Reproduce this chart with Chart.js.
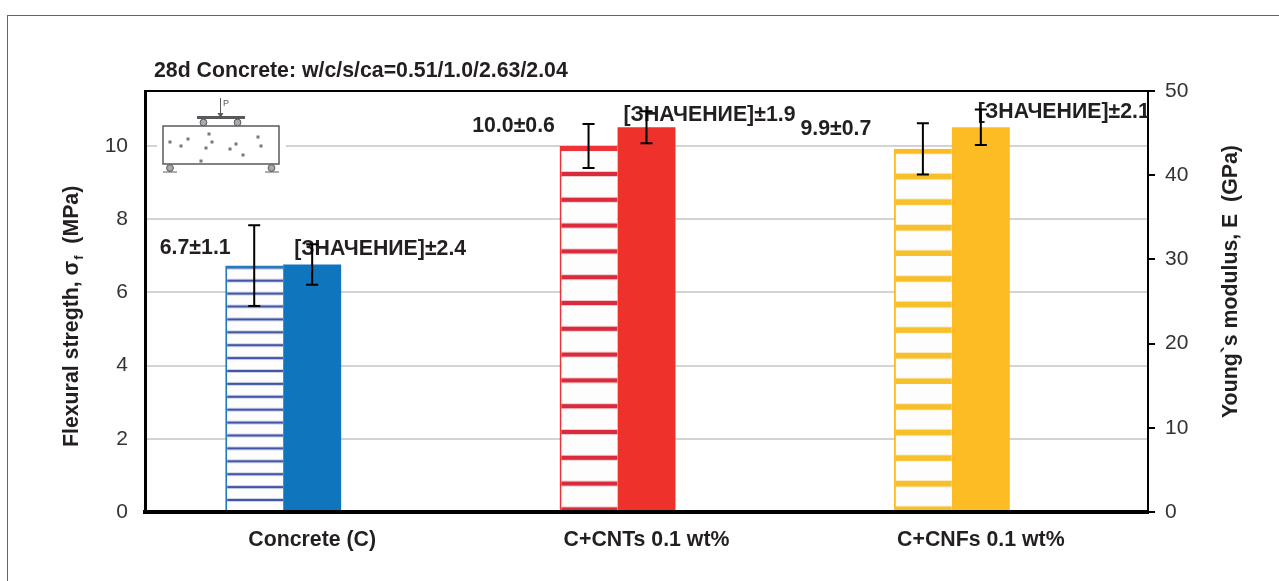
<!DOCTYPE html>
<html>
<head>
<meta charset="utf-8">
<title>Flexural strength and modulus</title>
<script src="https://cdn.jsdelivr.net/npm/chart.js@4"></script>
<style>
    html, body { margin: 0; padding: 0; background: #fff; overflow: hidden; }
    #frame { position: absolute; left: 7px; top: 15px; width: 1290px; height: 600px; border: 1.5px solid #666; }
    #chart { position: absolute; left: 0; top: 0; }
</style>
</head>
<body>
<div id="frame"></div>
<canvas id="chart" width="1279" height="581"></canvas>
<script>
// Chart data
const categories = ['Concrete (C)', 'C+CNTs 0.1 wt%', 'C+CNFs 0.1 wt%'];
const flexuralStrength = [6.73, 10.0, 9.92];
const flexuralError = [1.1, 0.6, 0.7];
const youngsModulus = [29.4, 45.7, 45.7];
const modulusError = [2.4, 1.9, 2.1];
const leftTicks = [0, 2, 4, 6, 8, 10];
const rightTicks = [0, 10, 20, 30, 40, 50];

const TEXT = '#231f20';
const FONT = '"Liberation Sans", Arial, sans-serif';
const solidColors = ['#0f75bc', '#ef312b', '#fdbb24'];
const edgeColors = ['#1f7cc0', '#ee3338', '#fdbb24'];
const lineColors = ['#4356a6', '#d92b3c', '#f6bf2c'];

// Label offsets from the top centre of each bar
const flexuralLabelPos = [[-59, -18], [-75, -20], [-87, -20]];
const modulusLabelPos = [[68, -15], [63, -12], [83, -15]];

const ctx = document.getElementById('chart').getContext('2d');

// Horizontal hatching; the tile holds enough lines to come out at a whole pixel height
function makeHatch(color, period, count, lineY, lineWidth) {
    const height = Math.round(period * count);
    const tile = document.createElement('canvas');
    tile.width = 4;
    tile.height = height;
    const t = tile.getContext('2d');
    t.fillStyle = '#fdfdfd';
    t.fillRect(0, 0, 4, height);
    for (let i = 0; i < count; i++) {
        const y = ((lineY + i * height / count) % height + height) % height;
        t.fillStyle = color;
        t.globalAlpha = 0.25;
        t.fillRect(0, y - lineWidth / 2 - 1, 4, lineWidth + 2);
        t.globalAlpha = 1;
        t.fillRect(0, y - lineWidth / 2, 4, lineWidth);
    }
    return ctx.createPattern(tile, 'repeat');
}

const hatches = [
    makeHatch(lineColors[0], 12.9, 10, 500, 2),
    makeHatch(lineColors[1], 25.8, 5, 174, 4),
    makeHatch(lineColors[2], 25.6, 5, 176.5, 5.5)
];

// Fixed box sizes so the plot lands where the reference has it
function fixWidth(w) { return scale => { scale.width = w; }; }

function drawBeam(c) {
    c.save();
    c.fillStyle = '#fff';
    c.fillRect(157, 96, 129, 82);
    c.strokeStyle = '#58595b';
    c.fillStyle = '#58595b';
    c.lineWidth = 1.5;
    c.strokeRect(163, 126, 116, 38);
    c.fillRect(197, 116, 48, 3);
    c.lineWidth = 1;
    c.beginPath(); c.moveTo(220.5, 98); c.lineTo(220.5, 114); c.stroke();
    c.beginPath(); c.moveTo(217.5, 113); c.lineTo(223.5, 113); c.lineTo(220.5, 118); c.fill();
    c.font = '9px ' + FONT;
    c.fillText('P', 223, 106);
    [[203.5, 122.5], [237.5, 122.5], [170, 168], [271.5, 168]].forEach(p => {
        c.beginPath();
        c.arc(p[0], p[1], 3.4, 0, Math.PI * 2);
        c.fillStyle = '#a7a9ac';
        c.fill();
        c.stroke();
    });
    c.beginPath();
    c.moveTo(163, 172); c.lineTo(177, 172);
    c.moveTo(265, 172); c.lineTo(279, 172);
    c.stroke();
    c.fillStyle = '#77787b';
    [[170, 142], [181, 146], [188, 139], [209, 134], [212, 142], [206, 148],
     [230, 149], [236, 144], [243, 155], [258, 137], [261, 146], [201, 161]].forEach(p => {
        c.fillRect(p[0] - 1.5, p[1] - 1.5, 3, 3);
    });
    c.restore();
}

// Whiskers, value labels, title and the rotated axis titles
const annotations = {
    id: 'annotations',
    afterDatasetsDraw(chart) {
        const c = chart.ctx;
        const area = chart.chartArea;
        const yLeft = chart.scales.y;
        const yRight = chart.scales.y1;
        const barsLeft = chart.getDatasetMeta(0).data;
        const barsRight = chart.getDatasetMeta(1).data;

        drawBeam(c);

        // value labels sit under the whiskers
        c.save();
        c.beginPath();
        c.rect(area.left, area.top, area.right - area.left, area.bottom - area.top);
        c.clip();
        c.font = 'bold 21.3px ' + FONT;
        c.fillStyle = TEXT;
        c.textAlign = 'center';
        c.textBaseline = 'middle';
        categories.forEach((name, i) => {
            c.fillText(flexuralStrength[i].toFixed(1) + '±' + flexuralError[i],
                barsLeft[i].x + flexuralLabelPos[i][0], barsLeft[i].y + flexuralLabelPos[i][1]);
            c.fillText('[ЗНАЧЕНИЕ]±' + modulusError[i],
                barsRight[i].x + modulusLabelPos[i][0], barsRight[i].y + modulusLabelPos[i][1]);
        });
        c.restore();

        c.save();
        c.strokeStyle = '#000';
        c.lineWidth = 2;
        const whisker = (x, hi, lo) => {
            c.beginPath();
            c.moveTo(x, hi); c.lineTo(x, lo);
            c.moveTo(x - 6, hi); c.lineTo(x + 6, hi);
            c.moveTo(x - 6, lo); c.lineTo(x + 6, lo);
            c.stroke();
        };
        categories.forEach((name, i) => {
            whisker(barsLeft[i].x,
                yLeft.getPixelForValue(flexuralStrength[i] + flexuralError[i]),
                yLeft.getPixelForValue(flexuralStrength[i] - flexuralError[i]));
            whisker(barsRight[i].x,
                yRight.getPixelForValue(youngsModulus[i] + modulusError[i]),
                yRight.getPixelForValue(youngsModulus[i] - modulusError[i]));
        });

        // top edge of the plot
        c.beginPath();
        c.moveTo(area.left, area.top);
        c.lineTo(area.right, area.top);
        c.stroke();
        c.restore();

        c.save();
        c.fillStyle = TEXT;
        c.textBaseline = 'alphabetic';
        c.font = 'bold 21.3px ' + FONT;
        c.fillText('28d Concrete: w/c/s/ca=0.51/1.0/2.63/2.04', 154, 77);

        // left axis title, with the subscript f
        c.translate(78, 447);
        c.rotate(-Math.PI / 2);
        c.fillText('Flexural stregth, σ', 0, 0);
        let w = c.measureText('Flexural stregth, σ').width;
        c.font = 'bold 13px ' + FONT;
        c.fillText('f', w + 1, 5);
        w += c.measureText('f').width + 1;
        c.font = 'bold 21.3px ' + FONT;
        c.fillText('  (MPa)', w, 0);
        c.restore();

        c.save();
        c.fillStyle = TEXT;
        c.translate(1237, 418);
        c.rotate(-Math.PI / 2);
        c.font = 'bold 21.3px ' + FONT;
        c.fillText('Young`s modulus, E  (GPa)', 0, 0);
        c.restore();
    }
};

new Chart(ctx, {
    type: 'bar',
    data: {
        labels: categories,
        datasets: [
            {
                label: 'Flexural strength',
                data: flexuralStrength,
                yAxisID: 'y',
                backgroundColor: hatches,
                borderColor: edgeColors,
                borderWidth: ctx => ({ left: 2, top: ctx.dataIndex === 0 ? 3 : 5, right: 0, bottom: 0 }),
                borderSkipped: false
            },
            {
                label: "Young's modulus",
                data: youngsModulus,
                yAxisID: 'y1',
                backgroundColor: solidColors
            },
            // empty third slot: the pair sits left of the category centre
            { label: '', data: [null, null, null], yAxisID: 'y' }
        ]
    },
    options: {
        responsive: false,
        animation: false,
        layout: { padding: { top: 91, left: 0, right: 0, bottom: 0 } },
        categoryPercentage: 0.52,
        barPercentage: 1,
        plugins: {
            legend: { display: false },
            tooltip: { enabled: false }
        },
        scales: {
            x: {
                afterFit: scale => { scale.height = 69; },
                grid: { display: false, drawTicks: false },
                border: { color: '#000', width: 4, z: 5 },
                ticks: {
                    padding: 15,
                    maxRotation: 0,
                    color: TEXT,
                    font: { family: FONT, size: 21.3, weight: 'bold' }
                }
            },
            y: {
                position: 'left',
                min: 0,
                max: 11.5,
                afterFit: fixWidth(145),
                afterBuildTicks: scale => { scale.ticks = leftTicks.map(v => ({ value: v })); },
                grid: { color: '#d1d3d4', lineWidth: 2, drawTicks: false },
                border: { color: '#000', width: 3 },
                ticks: {
                    padding: 17,
                    color: '#333',
                    font: { family: FONT, size: 21 }
                }
            },
            y1: {
                position: 'right',
                min: 0,
                max: 50,
                afterFit: fixWidth(131),
                afterBuildTicks: scale => { scale.ticks = rightTicks.map(v => ({ value: v })); },
                grid: { drawOnChartArea: false, color: '#000', lineWidth: 2, tickLength: 7 },
                border: { color: '#000', width: 2 },
                ticks: {
                    padding: 10,
                    color: '#333',
                    font: { family: FONT, size: 21 }
                }
            }
        }
    },
    plugins: [annotations]
});
</script>
</body>
</html>
